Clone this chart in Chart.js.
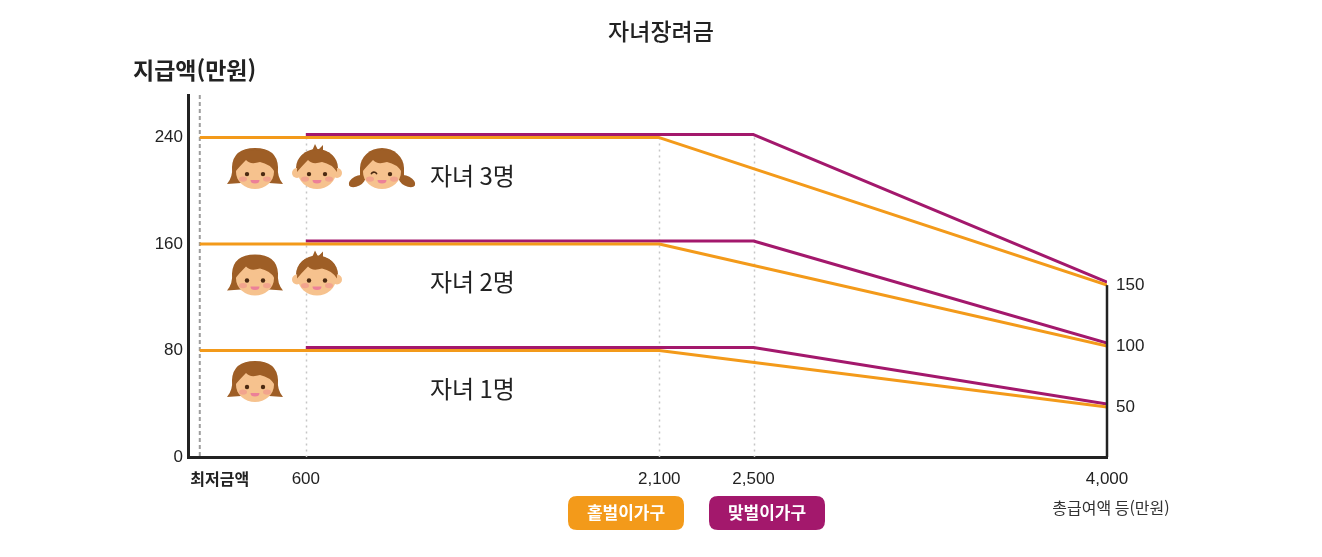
<!DOCTYPE html>
<html lang="ko">
<head>
<meta charset="utf-8">
<title>자녀장려금</title>
<script src="https://cdn.jsdelivr.net/npm/chart.js@4.4.1/dist/chart.umd.min.js"></script>
<style>
html,body{margin:0;padding:0;background:#fff;}
#wrap{width:1322px;height:557px;position:relative;}
</style>
</head>
<body>
<div id="wrap"><canvas id="c" width="1322" height="557"></canvas></div>
<script>
// ---- data ----
const TITLE = '자녀장려금';
const Y_TITLE = '지급액(만원)';
const X_TITLE = '총급여액 등(만원)';
const SERIES_NAMES = ['홑벌이가구', '맞벌이가구'];
const CHILD_LABELS = ['자녀 1명', '자녀 2명', '자녀 3명'];
const MAX_AMOUNT = [80, 160, 240];        // 최대 지급액 (왼쪽 축)
const END_AMOUNT = [50, 100, 150];        // 총급여액 4,000 지점 지급액 (오른쪽 축)
const SINGLE_INCOME = [150, 2100, 4000];  // 홑벌이: 최저금액, 감액 시작, 종료
const DUAL_INCOME = [600, 2500, 4000];    // 맞벌이: 시작, 감액 시작, 종료
const X_TICK_VALUES = [150, 600, 2100, 2500, 4000];
const X_TICK_LABELS = ['최저금액', '600', '2,100', '2,500', '4,000'];
const Y_TICK_VALUES = [0, 80, 160, 240];
const Y2_TICK_VALUES = [50, 100, 150];

// ---- axis ranges ----
const X_MIN = 100, X_MAX = 4000;
const Y_MIN = 0, Y_MAX = 272;
const Y2_MIN = 9, Y2_MAX = 306;

const ORANGE = '#F39A1A';
const PURPLE = '#A3186C';
const KR = "'Noto Sans CJK KR', 'Noto Sans', sans-serif";
const NUM = "'Liberation Sans', Arial, sans-serif";

// right-axis value expressed in left-axis units (both axes share the chart area)
function toLeft(v) {
  return Y_MIN + (v - Y2_MIN) / (Y2_MAX - Y2_MIN) * (Y_MAX - Y_MIN);
}

const datasets = [];
CHILD_LABELS.forEach((c, i) => {
  datasets.push({
    label: SERIES_NAMES[0] + ' ' + c, group: 0,
    data: [
      {x: SINGLE_INCOME[0], y: MAX_AMOUNT[i]},
      {x: SINGLE_INCOME[1], y: MAX_AMOUNT[i]},
      {x: SINGLE_INCOME[2], y: toLeft(END_AMOUNT[i])}
    ],
    borderColor: ORANGE, backgroundColor: ORANGE
  });
});
CHILD_LABELS.forEach((c, i) => {
  datasets.push({
    label: SERIES_NAMES[1] + ' ' + c, group: 1,
    data: [
      {x: DUAL_INCOME[0], y: MAX_AMOUNT[i]},
      {x: DUAL_INCOME[1], y: MAX_AMOUNT[i]},
      {x: DUAL_INCOME[2], y: toLeft(END_AMOUNT[i])}
    ],
    borderColor: PURPLE, backgroundColor: PURPLE
  });
});

function drawFace(ctx, cx, cy, kind) {
  const HAIR = '#9E5E26', SKIN = '#F6C28E', EYE = '#4B2A12',
        CHEEK = 'rgba(238,140,140,0.55)', MOUTH = '#EC8098';
  ctx.save();
  ctx.fillStyle = HAIR;
  if (kind === 0) {
    ctx.beginPath();
    ctx.moveTo(cx - 28, cy + 15);
    ctx.quadraticCurveTo(cx - 22, cy + 8, cx - 23, cy - 2);
    ctx.quadraticCurveTo(cx - 22, cy - 21, cx, cy - 21);
    ctx.quadraticCurveTo(cx + 22, cy - 21, cx + 23, cy - 2);
    ctx.quadraticCurveTo(cx + 22, cy + 8, cx + 28, cy + 15);
    ctx.lineTo(cx, cy + 13);
    ctx.closePath();
    ctx.fill();
  } else if (kind === 1) {
    ctx.fillStyle = SKIN;
    ctx.beginPath(); ctx.arc(cx - 20, cy + 4, 5, 0, 2 * Math.PI); ctx.fill();
    ctx.beginPath(); ctx.arc(cx + 20, cy + 4, 5, 0, 2 * Math.PI); ctx.fill();
    ctx.fillStyle = HAIR;
    ctx.beginPath(); ctx.ellipse(cx, cy - 1, 21, 19, 0, Math.PI, 2 * Math.PI); ctx.fill();
    ctx.beginPath();
    ctx.moveTo(cx - 5, cy - 18); ctx.lineTo(cx - 2, cy - 25); ctx.lineTo(cx + 1, cy - 19);
    ctx.lineTo(cx + 6, cy - 24); ctx.lineTo(cx + 6, cy - 17); ctx.closePath(); ctx.fill();
  } else {
    ctx.beginPath(); ctx.ellipse(cx - 25, cy + 12, 9, 5, -0.5, 0, 2 * Math.PI); ctx.fill();
    ctx.beginPath(); ctx.ellipse(cx + 25, cy + 12, 9, 5, 0.5, 0, 2 * Math.PI); ctx.fill();
    ctx.beginPath();
    ctx.ellipse(cx, cy - 1, 22, 20, 0, Math.PI, 2 * Math.PI);
    ctx.lineTo(cx + 22, cy + 9); ctx.lineTo(cx - 22, cy + 9); ctx.closePath(); ctx.fill();
  }
  ctx.fillStyle = SKIN;
  ctx.beginPath(); ctx.ellipse(cx, cy + 3, 19, 17, 0, 0, 2 * Math.PI); ctx.fill();
  ctx.fillStyle = HAIR;
  ctx.beginPath();
  ctx.moveTo(cx - 20, cy + 3);
  ctx.quadraticCurveTo(cx - 21, cy - 19, cx, cy - 19);
  ctx.quadraticCurveTo(cx + 21, cy - 19, cx + 20, cy + 3);
  ctx.quadraticCurveTo(cx + 15, cy - 5, cx + 5, cy - 7);
  ctx.quadraticCurveTo(cx - 5, cy - 4, cx - 9, cy - 9);
  ctx.quadraticCurveTo(cx - 15, cy - 3, cx - 20, cy + 3);
  ctx.fill();
  ctx.fillStyle = CHEEK;
  ctx.beginPath(); ctx.ellipse(cx - 12, cy + 10, 4, 2.6, 0, 0, 2 * Math.PI); ctx.fill();
  ctx.beginPath(); ctx.ellipse(cx + 12, cy + 10, 4, 2.6, 0, 0, 2 * Math.PI); ctx.fill();
  ctx.fillStyle = EYE;
  if (kind === 2) {
    ctx.strokeStyle = EYE; ctx.lineWidth = 1.6;
    ctx.beginPath(); ctx.arc(cx - 8, cy + 6, 3, Math.PI * 1.1, Math.PI * 1.9); ctx.stroke();
  } else {
    ctx.beginPath(); ctx.arc(cx - 8, cy + 5, 2.2, 0, 2 * Math.PI); ctx.fill();
  }
  ctx.beginPath(); ctx.arc(cx + 8, cy + 5, 2.2, 0, 2 * Math.PI); ctx.fill();
  ctx.fillStyle = MOUTH;
  ctx.beginPath(); ctx.ellipse(cx, cy + 11, 4.5, 3.5, 0, 0, Math.PI); ctx.closePath(); ctx.fill();
  ctx.restore();
}

function roundRect(ctx, x, y, w, h, r) {
  ctx.beginPath();
  ctx.moveTo(x + r, y);
  ctx.lineTo(x + w - r, y); ctx.quadraticCurveTo(x + w, y, x + w, y + r);
  ctx.lineTo(x + w, y + h - r); ctx.quadraticCurveTo(x + w, y + h, x + w - r, y + h);
  ctx.lineTo(x + r, y + h); ctx.quadraticCurveTo(x, y + h, x, y + h - r);
  ctx.lineTo(x, y + r); ctx.quadraticCurveTo(x, y, x + r, y);
  ctx.closePath();
}

const decorPlugin = {
  id: 'decor',
  beforeDatasetsDraw(chart) {
    const {ctx, chartArea: ca, scales: {x: xs, y: ys}} = chart;
    ctx.save();
    const x0 = xs.getPixelForValue(X_TICK_VALUES[0]);
    ctx.strokeStyle = '#9d9d9d'; ctx.lineWidth = 2; ctx.setLineDash([4, 3]);
    ctx.beginPath(); ctx.moveTo(x0, ca.top); ctx.lineTo(x0, ca.bottom); ctx.stroke();
    ctx.strokeStyle = '#c6c6c6'; ctx.lineWidth = 1.5; ctx.setLineDash([2, 4]);
    const topY = ys.getPixelForValue(MAX_AMOUNT[MAX_AMOUNT.length - 1]);
    X_TICK_VALUES.slice(1, -1).forEach(v => {
      const px = Math.round(xs.getPixelForValue(v)) + 0.5;
      ctx.beginPath(); ctx.moveTo(px, topY); ctx.lineTo(px, ca.bottom); ctx.stroke();
    });
    ctx.restore();
  },
  beforeDatasetDraw(chart, args) {
    if (chart.data.datasets[args.index].group === 1) {
      chart.ctx.save();
      chart.ctx.translate(0, -3);
    }
  },
  afterDatasetDraw(chart, args) {
    if (chart.data.datasets[args.index].group === 1) chart.ctx.restore();
  },
  afterDraw(chart) {
    const {ctx, chartArea: ca, scales: {y: ys, y2}} = chart;
    ctx.save();
    // right axis line
    ctx.strokeStyle = '#222'; ctx.lineWidth = 2.5;
    ctx.beginPath();
    ctx.moveTo(ca.right, y2.getPixelForValue(Y2_TICK_VALUES[Y2_TICK_VALUES.length - 1]));
    ctx.lineTo(ca.right, ca.bottom);
    ctx.stroke();
    // faces and child labels
    const faceX = [67, 129, 194];
    CHILD_LABELS.forEach((lab, i) => {
      const ly = ys.getPixelForValue(MAX_AMOUNT[i]);
      for (let k = 0; k <= i; k++) drawFace(ctx, ca.left + faceX[k], ly + 31.5, k);
      ctx.fillStyle = '#222';
      ctx.font = '400 24px ' + KR;
      ctx.textAlign = 'left'; ctx.textBaseline = 'middle';
      ctx.fillText(lab, ca.left + 242, ly + 38);
    });
    // axis titles
    ctx.fillStyle = '#222';
    ctx.font = 'bold 23px ' + KR;
    ctx.textAlign = 'left'; ctx.textBaseline = 'middle';
    ctx.fillText(Y_TITLE, 133, 70);
    ctx.fillStyle = '#333';
    ctx.font = '400 16px ' + KR;
    ctx.textAlign = 'center';
    ctx.fillText(X_TITLE, 1111, 508);
    // legend badges
    const colors = [ORANGE, PURPLE];
    const bx = [568, 709];
    SERIES_NAMES.forEach((name, i) => {
      ctx.fillStyle = colors[i];
      roundRect(ctx, bx[i], 496, 116, 34, 9);
      ctx.fill();
      ctx.fillStyle = '#fff';
      ctx.font = 'bold 17px ' + KR;
      ctx.textAlign = 'center'; ctx.textBaseline = 'middle';
      ctx.fillText(name, bx[i] + 58, 513);
    });
    ctx.restore();
  }
};

new Chart(document.getElementById('c'), {
  type: 'line',
  data: {datasets},
  plugins: [decorPlugin],
  options: {
    responsive: false,
    animation: false,
    devicePixelRatio: 1,
    layout: {padding: 0},
    elements: {
      point: {radius: 0, hoverRadius: 0},
      line: {borderWidth: 3, tension: 0, borderCapStyle: 'butt', borderJoinStyle: 'round', fill: false}
    },
    plugins: {
      legend: {display: false},
      tooltip: {enabled: false},
      title: {
        display: true, text: TITLE, color: '#222',
        font: {family: KR, size: 23, weight: '500'},
        padding: {top: 17.7, bottom: 49.7}
      }
    },
    scales: {
      x: {
        type: 'linear', min: X_MIN, max: X_MAX,
        afterBuildTicks: s => { s.ticks = X_TICK_VALUES.map(v => ({value: v})); },
        afterFit: s => { s.height = 100; },
        grid: {display: false, drawTicks: false},
        border: {display: true, color: '#222', width: 3},
        ticks: {
          autoSkip: false, maxRotation: 0, minRotation: 0, padding: 12, color: '#222',
          font: c => c.index === 0 ? {family: KR, size: 16, weight: 'bold'} : {family: NUM, size: 17},
          callback: (v, i) => i === 0 ? '\u3000\u3000\u2002' + X_TICK_LABELS[0] : X_TICK_LABELS[i]
        }
      },
      y: {
        type: 'linear', position: 'left', min: Y_MIN, max: Y_MAX,
        afterBuildTicks: s => { s.ticks = Y_TICK_VALUES.map(v => ({value: v})); },
        afterFit: s => { s.width = 188; },
        grid: {display: false, drawTicks: false},
        border: {display: true, color: '#222', width: 3},
        ticks: {padding: 5, color: '#222', font: {family: NUM, size: 17}}
      },
      y2: {
        type: 'linear', position: 'right', min: Y2_MIN, max: Y2_MAX,
        afterBuildTicks: s => { s.ticks = Y2_TICK_VALUES.map(v => ({value: v})); },
        afterFit: s => { s.width = 215; },
        grid: {display: false, drawTicks: false},
        border: {display: false},
        ticks: {padding: 9, color: '#222', font: {family: NUM, size: 17}}
      }
    }
  }
});
</script>
</body>
</html>
